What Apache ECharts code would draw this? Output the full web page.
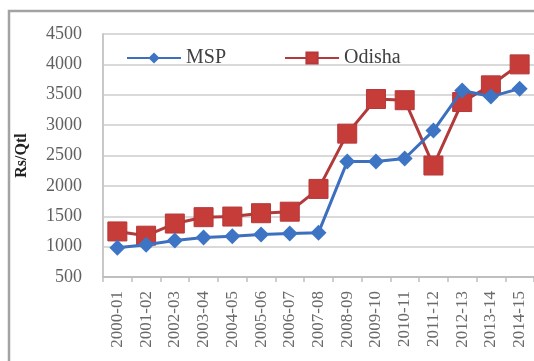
<!DOCTYPE html>
<html>
<head>
<meta charset="utf-8">
<script src="https://cdn.jsdelivr.net/npm/echarts@6/dist/echarts.min.js"></script>
<style>
html,body{margin:0;padding:0;background:#fff;}
#chart{width:534px;height:361px;}
</style>
</head>
<body>
<div id="chart"></div>
<script>
var categories = ['2000-01','2001-02','2002-03','2003-04','2004-05','2005-06','2006-07','2007-08','2008-09','2009-10','2010-11','2011-12','2012-13','2013-14','2014-15'];
var mspValues = [980, 1030, 1100, 1150, 1170, 1200, 1215, 1230, 2400, 2400, 2450, 2910, 3570, 3470, 3600];
var odishaValues = [1250, 1180, 1380, 1485, 1495, 1550, 1575, 1950, 2860, 3430, 3410, 2335, 3380, 3655, 4000];
var yTicks = [500, 1000, 1500, 2000, 2500, 3000, 3500, 4000, 4500];

var chart = echarts.init(document.getElementById('chart'));
var serif = '"Liberation Serif", "DejaVu Serif", serif';
chart.setOption({
  animation: false,
  backgroundColor: '#ffffff',
  graphic: [{
    type: 'rect',
    shape: { x: 9, y: 11, width: 560, height: 400 },
    style: { fill: 'none', stroke: '#a3a3a3', lineWidth: 2.5 },
    silent: true
  }],
  legend: {
    left: 121,
    top: 43,
    itemWidth: 54,
    itemHeight: 14,
    itemGap: 58,
    textStyle: { fontFamily: serif, fontSize: 20, color: '#404040' },
    data: ['MSP', 'Odisha']
  },
  grid: { left: 103, top: 34, right: -4, bottom: 84, containLabel: false },
  xAxis: {
    type: 'category',
    data: categories,
    boundaryGap: true,
    axisLine: { lineStyle: { color: '#bfbfbf', width: 2 } },
    axisTick: { show: true, length: 5, lineStyle: { color: '#bfbfbf', width: 1.5 } },
    axisLabel: { rotate: 90, interval: 0, fontFamily: serif, fontSize: 17, color: '#6a6a6a', margin: 14 }
  },
  yAxis: {
    type: 'value',
    min: yTicks[0],
    max: yTicks[yTicks.length - 1],
    interval: 500,
    name: 'Rs/Qtl',
    nameLocation: 'middle',
    nameGap: 73,
    nameRotate: 90,
    nameTextStyle: { fontFamily: serif, fontSize: 16, fontWeight: 'bold', color: '#222' },
    axisLine: { show: true, lineStyle: { color: '#c8c8c8', width: 2 } },
    axisTick: { show: false },
    splitLine: { lineStyle: { color: '#d9d9d9', width: 2 } },
    axisLabel: { fontFamily: serif, fontSize: 18, color: '#606060', margin: 21, formatter: function (v) { return String(v); } }
  },
  series: [{
    name: 'MSP',
    type: 'line',
    data: mspValues,
    symbol: 'diamond',
    symbolSize: 16,
    lineStyle: { color: '#3d6fbf', width: 3 },
    itemStyle: { color: '#3d74c4' },
    z: 3
  }, {
    name: 'Odisha',
    type: 'line',
    data: odishaValues,
    symbol: 'rect',
    symbolSize: 19,
    lineStyle: { color: '#b23a3a', width: 3 },
    itemStyle: { color: '#c63c38', borderColor: '#b5383a', borderWidth: 1 },
    z: 2
  }]
});
</script>
</body>
</html>
